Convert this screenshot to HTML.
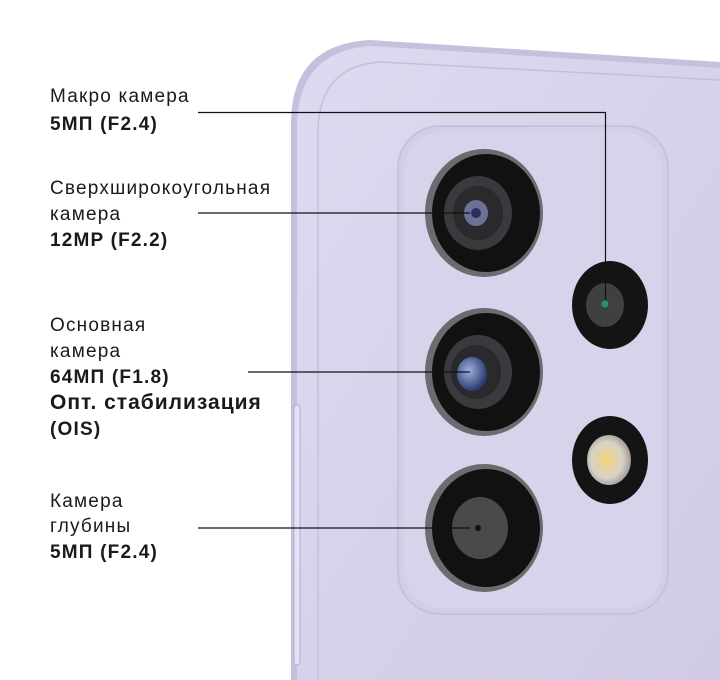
<!DOCTYPE html>
<html><head><meta charset="utf-8"><style>
html,body{margin:0;padding:0;background:#fff;width:720px;height:680px;overflow:hidden}
svg{display:block}
text{font-family:"Liberation Sans",sans-serif;font-size:19px;letter-spacing:1.2px;fill:#1a1a1a}
.b{font-weight:bold}
</style></head><body>
<svg width="720" height="680" viewBox="0 0 720 680" xmlns="http://www.w3.org/2000/svg">
<defs>
<linearGradient id="body" x1="0" y1="0" x2="1" y2="1">
<stop offset="0" stop-color="#dddaf0"/><stop offset="1" stop-color="#d0cae6"/>
</linearGradient>
<radialGradient id="lensB" cx="0.4" cy="0.4" r="0.6"><stop offset="0" stop-color="#9fb0e0"/><stop offset="1" stop-color="#2c3a70"/></radialGradient>
<radialGradient id="flash" cx="0.45" cy="0.5" r="0.6"><stop offset="0" stop-color="#f2d27a"/><stop offset="0.6" stop-color="#d8d2c8"/><stop offset="1" stop-color="#8e8a86"/></radialGradient>
</defs>
<path d="M291 680 L291 120 Q293 44 370 40 L720 62 L720 680 Z" fill="#c6c0dd"/>
<path d="M297 680 L297 122 Q300 50 372 46 L720 68 L720 680 Z" fill="url(#body)"/>
<path d="M318 680 L318 130 Q320 66 380 62 L720 80" fill="none" stroke="#c4bedc" stroke-width="1.5"/>
<rect x="294" y="405" width="6" height="260" rx="3" fill="#e6e2f4" stroke="#b3acd0"/>
<rect x="398" y="126" width="270" height="488" rx="42" fill="#d3cde6" stroke="#c8c1de" stroke-width="2"/>
<rect x="404" y="132" width="258" height="476" rx="38" fill="#d8d3ea"/>
<g>
<ellipse cx="484" cy="213" rx="59" ry="64" fill="#6d6a70"/>
<ellipse cx="486" cy="213" rx="54" ry="59" fill="#111"/>
<ellipse cx="478" cy="213" rx="34" ry="37" fill="#3a3a3e"/>
<ellipse cx="478" cy="213" rx="25" ry="27" fill="#2a2a2c"/>
<ellipse cx="476" cy="213" rx="12" ry="13" fill="#6f7098"/>
<ellipse cx="476" cy="213" rx="5" ry="5" fill="#2c2e5a"/>
</g>
<g>
<ellipse cx="484" cy="372" rx="59" ry="64" fill="#6d6a70"/>
<ellipse cx="486" cy="372" rx="54" ry="59" fill="#111"/>
<ellipse cx="478" cy="372" rx="34" ry="37" fill="#3a3a3e"/>
<ellipse cx="476" cy="372" rx="25" ry="27" fill="#2a2a2c"/>
<ellipse cx="472" cy="374" rx="15" ry="17" fill="url(#lensB)"/>
</g>
<g>
<ellipse cx="484" cy="528" rx="59" ry="64" fill="#6d6a70"/>
<ellipse cx="486" cy="528" rx="54" ry="59" fill="#111"/>
<ellipse cx="480" cy="528" rx="28" ry="31" fill="#4a494c"/>
<circle cx="478" cy="528" r="3" fill="#111"/>
</g>
<ellipse cx="610" cy="305" rx="38" ry="44" fill="#141414"/>
<ellipse cx="605" cy="305" rx="19" ry="22" fill="#404042"/>
<circle cx="605" cy="304" r="3.5" fill="#1f9a5a"/>
<ellipse cx="610" cy="460" rx="38" ry="44" fill="#141414"/>
<ellipse cx="609" cy="460" rx="22" ry="25" fill="url(#flash)"/>
<g stroke="#111" stroke-width="1.2" fill="none">
<polyline points="198,112.5 605.5,112.5 605.5,300"/>
<line x1="198" y1="213" x2="470" y2="213"/>
<line x1="248" y1="372" x2="470" y2="372"/>
<line x1="198" y1="528" x2="470" y2="528"/>
</g>
<text x="50" y="102">Макро камера</text>
<text x="50" y="130" class="b">5МП (F2.4)</text>
<text x="50" y="194">Сверхширокоугольная</text>
<text x="50" y="220">камера</text>
<text x="50" y="246" class="b">12MP (F2.2)</text>
<text x="50" y="331">Основная</text>
<text x="50" y="357">камера</text>
<text x="50" y="383" class="b">64МП (F1.8)</text>
<text x="50" y="409" class="b" style="font-size:21px;letter-spacing:1px">Опт. стабилизация</text>
<text x="50" y="435" class="b">(OIS)</text>
<text x="50" y="507">Камера</text>
<text x="50" y="532">глубины</text>
<text x="50" y="558" class="b">5МП (F2.4)</text>
</svg>
</body></html>
